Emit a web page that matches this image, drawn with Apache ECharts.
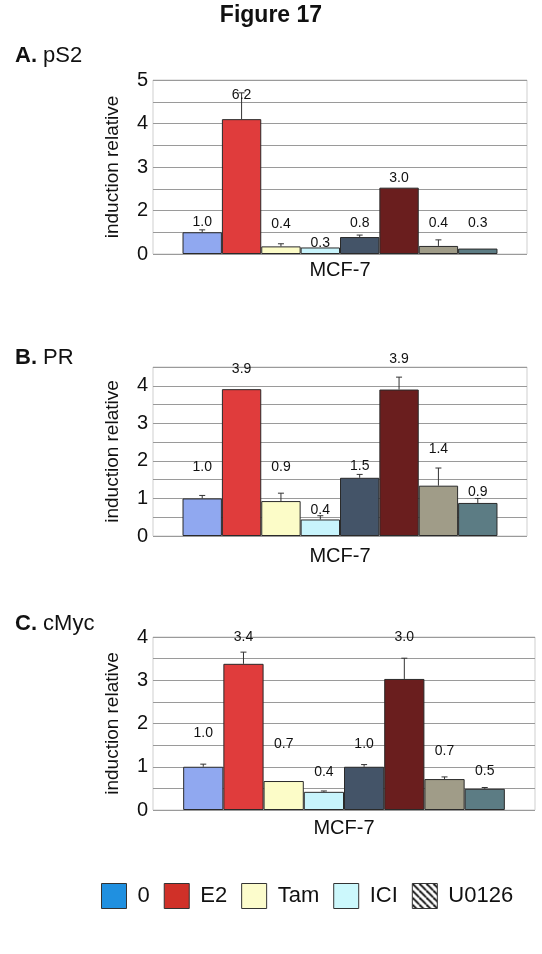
<!DOCTYPE html>
<html>
<head>
<meta charset="utf-8">
<script src="https://cdn.jsdelivr.net/npm/echarts@6/dist/echarts.min.js"></script>
<style>
  html, body { margin: 0; padding: 0; background: #fff; }
  #chart { width: 542px; height: 954px; }
</style>
</head>
<body>
<div id="chart"></div>
<script>
// bar order inside each panel: 0, E2, Tam, ICI, then the same four with U0126
const conditions = ['0', 'E2', 'Tam', 'ICI', 'U0126', 'E2 + U0126', 'Tam + U0126', 'ICI + U0126']
const legendNames = ['0', 'E2', 'Tam', 'ICI', 'U0126']

// A. pS2 (the printed axis labels do not follow the bar scale, kept as printed)
const ps2Values = [1.0, 6.2, 0.35, 0.3, 0.78, 3.05, 0.37, 0.25]
const ps2Errors = [0.11, 1.21, 0.12, 0, 0.09, 0, 0.28, 0]
const ps2Labels = ['1.0', '6.2', '0.4', '0.3', '0.8', '3.0', '0.4', '0.3']
const ps2LabelY = [1.46, 7.31, 1.38, 0.52, 1.41, 3.49, 1.41, 1.41]
const ps2TickValues = [0, 2, 4, 6, 8]
const ps2TickLabels = ['0', '2', '3', '4', '5']

// B. PR
const prValues = [1.0, 3.91, 0.93, 0.44, 1.55, 3.9, 1.34, 0.88]
const prErrors = [0.08, 0, 0.21, 0.1, 0.09, 0.33, 0.47, 0.12]
const prLabels = ['1.0', '3.9', '0.9', '0.4', '1.5', '3.9', '1.4', '0.9']
const prLabelY = [1.83, 4.45, 1.83, 0.69, 1.85, 4.72, 2.31, 1.16]
const prTickValues = [0, 1, 2, 3, 4]
const prTickLabels = ['0', '1', '2', '3', '4']

// C. cMyc
const mycValues = [1.0, 3.38, 0.67, 0.42, 1.0, 3.03, 0.715, 0.49]
const mycErrors = [0.06, 0.27, 0, 0.02, 0.05, 0.48, 0.05, 0.03]
const mycLabels = ['1.0', '3.4', '0.7', '0.4', '1.0', '3.0', '0.7', '0.5']
const mycLabelY = [1.78, 4.0, 1.52, 0.88, 1.52, 4.0, 1.37, 0.9]
const mycTickValues = [0, 1, 2, 3, 4]
const mycTickLabels = ['0', '1', '2', '3', '4']

const barColors = ['#90a8f0', '#e03c3c', '#fcfcc8', '#c8f4fc', '#445468', '#6a1e1e', '#a09c88', '#5c7c84']
const legendColors = ['#2090e0', '#d03028', '#fcfccc', '#ccf8fc']
const FONT = 'Liberation Sans, Arial, sans-serif'

function hatch() {
  const c = document.createElement('canvas')
  c.width = 7
  c.height = 7
  const ctx = c.getContext('2d')
  ctx.fillStyle = '#fff'
  ctx.fillRect(0, 0, 7, 7)
  ctx.strokeStyle = '#000'
  ctx.lineWidth = 1.8
  for (const x of [-7, 0, 7]) {
    ctx.beginPath()
    ctx.moveTo(x, 0)
    ctx.lineTo(x + 7, 7)
    ctx.stroke()
  }
  return c
}

const panels = [
  { title: '{b|A.} pS2', values: ps2Values, errors: ps2Errors, labels: ps2Labels, labelY: ps2LabelY,
    ticks: ps2TickValues, tickLabels: ps2TickLabels, max: 8, interval: 1,
    grid: { left: 153, top: 80, width: 374, height: 174 }, titleTop: 45, nameGap: 6 },
  { title: '{b|B.} PR', values: prValues, errors: prErrors, labels: prLabels, labelY: prLabelY,
    ticks: prTickValues, tickLabels: prTickLabels, max: 4.5, interval: 0.5,
    grid: { left: 153, top: 367, width: 374, height: 169 }, titleTop: 347, nameGap: 10 },
  { title: '{b|C.} cMyc', values: mycValues, errors: mycErrors, labels: mycLabels, labelY: mycLabelY,
    ticks: mycTickValues, tickLabels: mycTickLabels, max: 4, interval: 0.5,
    grid: { left: 153, top: 637, width: 382, height: 173 }, titleTop: 613, nameGap: 8 },
]

const X_MIN = -0.25
const X_MAX = 9.25

const titles = [{
  text: 'Figure 17', left: 'center', top: 4, padding: 0,
  textStyle: { fontFamily: FONT, fontSize: 23, fontWeight: 'bold', color: '#111' },
}]
const grids = []
const xAxes = []
const yAxes = []
const series = []

panels.forEach((p, i) => {
  titles.push({
    text: p.title, left: 15, top: p.titleTop, padding: 0,
    textStyle: {
      fontFamily: FONT, fontSize: 22, fontWeight: 'normal', color: '#111',
      rich: { b: { fontFamily: FONT, fontSize: 22, fontWeight: 'bold', color: '#111' } },
    },
  })
  grids.push(Object.assign({ show: true, borderColor: '#cfcfcf', borderWidth: 1, backgroundColor: '#fff' }, p.grid))
  xAxes.push({
    gridIndex: i, type: 'value', min: X_MIN, max: X_MAX,
    name: 'MCF-7', nameLocation: 'middle', nameGap: p.nameGap,
    nameTextStyle: { fontFamily: FONT, fontSize: 20, color: '#111' },
    axisLine: { show: false }, axisTick: { show: false }, axisLabel: { show: false }, splitLine: { show: false },
  })
  yAxes.push({
    gridIndex: i, type: 'value', min: 0, max: p.max, interval: p.interval,
    name: 'induction relative', nameLocation: 'middle', nameGap: 31,
    nameTextStyle: { fontFamily: FONT, fontSize: 19, color: '#111' },
    axisLine: { show: false }, axisTick: { show: false },
    axisLabel: {
      margin: 5, fontFamily: FONT, fontSize: 20, color: '#111',
      formatter: v => {
        const k = p.ticks.findIndex(t => Math.abs(t - v) < 1e-6)
        return k >= 0 ? p.tickLabels[k] : ''
      },
    },
    splitLine: { lineStyle: { color: '#9a9a9a', width: 1 } },
  })
  const unit = p.grid.width / (X_MAX - X_MIN)
  series.push({
    type: 'bar', xAxisIndex: i, yAxisIndex: i, barWidth: unit,
    data: p.values.map((v, k) => ({
      name: conditions[k], value: [k + 1, v],
      itemStyle: { color: barColors[k], borderColor: '#2a2a2a', borderWidth: 1 },
    })),
  })
  series.push({
    type: 'custom', xAxisIndex: i, yAxisIndex: i, z: 5,
    data: p.values.map((v, k) => [k + 1, v, p.errors[k]]).filter(d => d[2] > 0),
    renderItem: (params, api) => {
      const bottom = api.coord([api.value(0), api.value(1)])
      const top = api.coord([api.value(0), api.value(1) + api.value(2)])
      const style = { stroke: '#333', lineWidth: 1 }
      return {
        type: 'group',
        children: [
          { type: 'line', shape: { x1: bottom[0], y1: bottom[1], x2: top[0], y2: top[1] }, style },
          { type: 'line', shape: { x1: top[0] - 3, y1: top[1], x2: top[0] + 3, y2: top[1] }, style },
        ],
      }
    },
  })
  series.push({
    type: 'scatter', xAxisIndex: i, yAxisIndex: i, symbolSize: 0, clip: false, z: 6,
    itemStyle: { opacity: 1 },
    data: p.labelY.map((y, k) => [k + 1, y]),
    label: {
      show: true, position: 'inside', fontFamily: FONT, fontSize: 14, color: '#111',
      formatter: d => p.labels[d.dataIndex],
    },
  })
})

// legend-only series (the legend names the treatments, not the eight bars)
legendNames.forEach((n, k) => {
  series.push({
    name: n, type: 'scatter', xAxisIndex: 0, yAxisIndex: 0, data: [],
    itemStyle: { opacity: 1, color: k < 4 ? legendColors[k] : { image: hatch(), repeat: 'repeat' } },
  })
})

const chart = echarts.init(document.getElementById('chart'), null, { renderer: 'canvas' })
chart.setOption({
  animation: false,
  backgroundColor: '#fff',
  title: titles,
  grid: grids,
  xAxis: xAxes,
  yAxis: yAxes,
  legend: {
    data: legendNames, left: 101, top: 883, orient: 'horizontal', icon: 'rect', padding: 0,
    itemWidth: 25, itemHeight: 25, itemGap: 14,
    itemStyle: { borderColor: '#333', borderWidth: 1, opacity: 1 },
    textStyle: { fontFamily: FONT, fontSize: 22, color: '#111', padding: [0, 0, 0, 6] },
  },
  series: series,
})
</script>
</body>
</html>
